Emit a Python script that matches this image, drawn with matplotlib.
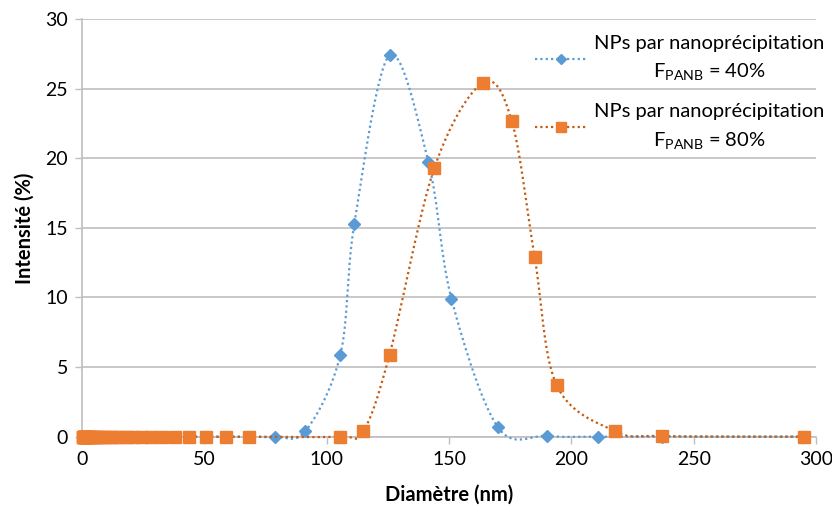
import numpy as np
import matplotlib
matplotlib.use("Agg")
import matplotlib.pyplot as plt
from matplotlib.lines import Line2D

plt.rcParams['font.family'] = ['Lato', 'DejaVu Sans']

# ---- data ----
small_d = [0.4, 0.46, 0.54, 0.62, 0.72, 0.83, 0.96, 1.12, 1.29, 1.50, 1.74, 2.01,
           2.33, 2.70, 3.12, 3.62, 4.19, 4.85, 5.62, 6.50, 7.53, 8.72, 10.1, 11.7,
           13.5, 15.7, 18.2, 21.0, 24.4, 28.2, 32.7, 37.8, 43.8, 50.8, 58.8, 68.1]

d40 = small_d + [78.8, 91.3, 105.6, 111.3, 125.7, 141.6, 151.0, 169.9, 190.0, 210.8, 237.0, 295.0]
i40 = [0.0] * len(small_d) + [0.0, 0.4, 5.9, 15.3, 27.4, 19.7, 9.9, 0.7, 0.05, 0.0, 0.0, 0.0]

d80 = small_d + [105.5, 115.0, 125.7, 144.0, 163.7, 175.6, 185.0, 194.0, 217.8, 237.0, 295.0]
i80 = [0.0] * len(small_d) + [0.0, 0.4, 5.9, 19.3, 25.4, 22.7, 12.9, 3.7, 0.4, 0.05, 0.0]

label40 = "NPs par nanoprécipitation\nF$_{\\mathregular{PANB}}$ = 40%"
label80 = "NPs par nanoprécipitation\nF$_{\\mathregular{PANB}}$ = 80%"

x_ticks = [0, 50, 100, 150, 200, 250, 300]
y_ticks = [0, 5, 10, 15, 20, 25, 30]


def smooth(xs, ys, n=30):
    """Excel-like smoothed line (Catmull-Rom Bezier through the points)."""
    P = np.column_stack([xs, ys]).astype(float)
    out = [P[0]]
    t = np.linspace(0, 1, n)[1:, None]
    for i in range(len(P) - 1):
        p0 = P[i - 1] if i > 0 else P[i]
        p1 = P[i]
        p2 = P[i + 1]
        p3 = P[i + 2] if i + 2 < len(P) else P[i + 1]
        c1 = p1 + (p2 - p0) / 6.0
        c2 = p2 - (p3 - p1) / 6.0
        seg = ((1 - t) ** 3) * p1 + 3 * ((1 - t) ** 2) * t * c1 + 3 * (1 - t) * t ** 2 * c2 + t ** 3 * p2
        out.extend(seg)
    out = np.array(out)
    return out[:, 0], out[:, 1]


blue = '#5B9BD5'
orange = '#ED7D31'
brown = '#C55A11'
dots = (0, (1, 1.4))

fig = plt.figure(figsize=(8.32, 5.08), dpi=100)
ax = fig.add_axes([0.0986, 0.1404, 0.9808 - 0.0986, (508 - 19) / 508 - 0.1404])

sx, sy = smooth(d40, i40)
ax.plot(sx, sy, color=blue, lw=1.6, ls=dots, zorder=3, clip_on=False)
ax.plot(d40, i40, ls='none', marker='D', ms=6.5, color=blue, mec=blue, zorder=4, clip_on=False)

sx, sy = smooth(d80, i80)
ax.plot(sx, sy, color=brown, lw=1.6, ls=dots, zorder=5, clip_on=False)
ax.plot(d80, i80, ls='none', marker='s', ms=9, color=orange, mec=orange, zorder=6, clip_on=False)

ax.set_xlim(0, 300)
ax.set_ylim(0, 30)
ax.set_xticks(x_ticks)
ax.set_yticks(y_ticks)
ax.tick_params(axis='both', labelsize=14, colors='#000000', length=5, width=1)
ax.tick_params(axis='x', color='#BFBFBF', pad=5)
ax.tick_params(axis='y', color='#BFBFBF', pad=5)
ax.yaxis.grid(True, color='#BFBFBF', lw=1.2)
ax.set_axisbelow(True)
for s in ['top', 'right']:
    ax.spines[s].set_visible(False)
for s in ['left', 'bottom']:
    ax.spines[s].set_color('#BFBFBF')
    ax.spines[s].set_linewidth(1.2)

ax.set_xlabel('Diamètre (nm)', fontsize=14.5, fontweight='bold', labelpad=12)
ax.set_ylabel('Intensité (%)', fontsize=14.5, fontweight='bold', labelpad=8)

h1 = Line2D([], [], color=blue, lw=1.6, ls=dots, marker='D', ms=5, mec=blue)
h2 = Line2D([], [], color=brown, lw=1.6, ls=dots, marker='s', ms=7, mfc=orange, mec=orange)
leg = fig.legend([h1, h2], [label40, label80], loc='upper right',
                 bbox_to_anchor=(824 / 832, 1 - 35 / 508), borderaxespad=0, borderpad=0,
                 frameon=False, fontsize=14.5, handlelength=2.6, handletextpad=0.3,
                 labelspacing=1.0)
for t in leg.get_texts():
    t.set_multialignment('center')
    t.set_linespacing(1.62)

fig.savefig('out.png', dpi=100, facecolor='white')
